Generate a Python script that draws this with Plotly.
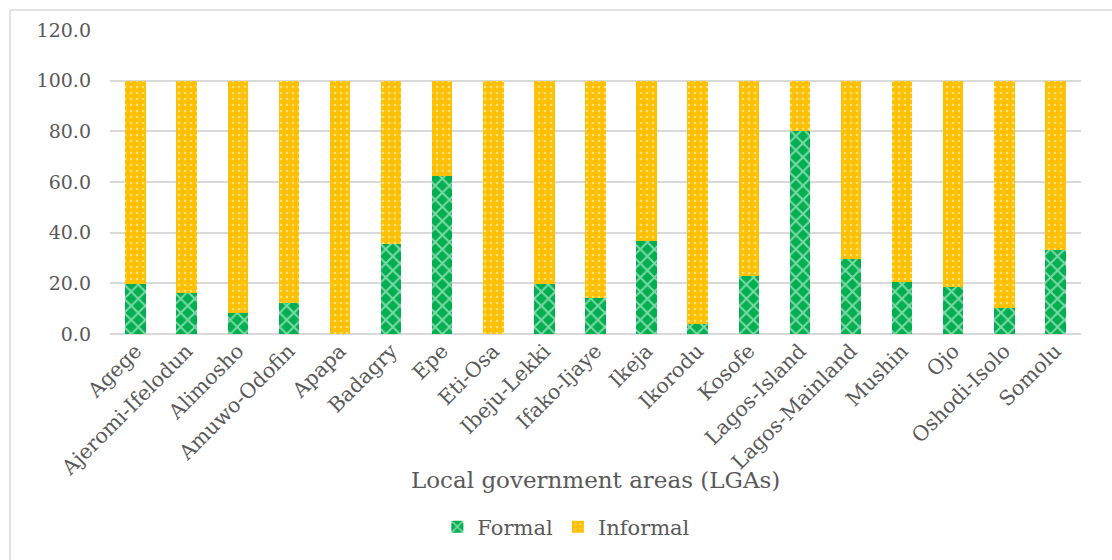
import plotly.graph_objects as go

# Local government areas of Lagos State
lgas = [
    "Agege", "Ajeromi-Ifelodun", "Alimosho", "Amuwo-Odofin", "Apapa", "Badagry",
    "Epe", "Eti-Osa", "Ibeju-Lekki", "Ifako-Ijaye", "Ikeja", "Ikorodu", "Kosofe",
    "Lagos-Island", "Lagos-Mainland", "Mushin", "Ojo", "Oshodi-Isolo", "Somolu",
]

# Share (%) of formal and informal in each LGA
formal = [19.8, 16.3, 8.2, 12.1, 0.0, 35.4, 62.4, 0.0, 19.8, 14.1, 36.9, 4.1, 22.7,
          80.0, 29.8, 20.7, 18.7, 10.4, 33.2]
informal = [round(100 - v, 1) for v in formal]

y_ticks = [0, 20, 40, 60, 80, 100, 120]

GREEN = "#00B050"
ORANGE = "#FFC000"
TEXT = "#595959"
GRID = "#D9D9D9"
FONT = "Georgia, 'DejaVu Serif', serif"

fig = go.Figure()
fig.add_trace(go.Bar(
    name="Formal", x=lgas, y=formal,
    marker=dict(color=GREEN, line=dict(width=0),
                pattern=dict(shape="x", fgcolor="white", bgcolor=GREEN,
                             size=10, solidity=0.35, fillmode="overlay")),
))
fig.add_trace(go.Bar(
    name="Informal", x=lgas, y=informal,
    marker=dict(color=ORANGE, line=dict(width=0),
                pattern=dict(shape=".", fgcolor="white", bgcolor=ORANGE,
                             size=6, solidity=0.15, fillmode="overlay")),
))

fig.update_layout(
    width=1112, height=560,
    barmode="stack", bargap=0.6,
    paper_bgcolor="white", plot_bgcolor="white",
    margin=dict(l=110, r=31, t=30, b=226),
    font=dict(family=FONT, color=TEXT, size=18),
    showlegend=True,
    legend=dict(orientation="h", x=0.47, xanchor="center", y=-0.635, yanchor="middle",
                font=dict(size=21, color=TEXT), traceorder="normal",
                itemwidth=30, bgcolor="rgba(0,0,0,0)"),
    xaxis=dict(tickangle=-45, tickfont=dict(size=20.5, color=TEXT), showgrid=False,
               showline=False, ticks="", automargin=False),
    yaxis=dict(range=[0, 120], tickvals=y_ticks, tickformat=".1f",
               tickfont=dict(size=19, color=TEXT), showgrid=True, gridcolor=GRID,
               gridwidth=1.5, zeroline=True, zerolinecolor=GRID, zerolinewidth=1.5,
               showline=False, ticks="", ticklabelstandoff=18, automargin=False),
    annotations=[dict(text="Local government areas (LGAs)", xref="paper", yref="paper",
                      x=0.5, y=-0.48, xanchor="center", yanchor="middle",
                      showarrow=False, font=dict(size=23, color=TEXT))],
    shapes=[dict(type="rect", xref="paper", yref="paper",
                 x0=-100 / 971, x1=1.2, y0=-1.2, y1=1 + 20 / 304,
                 line=dict(color=GRID, width=1.5), fillcolor="rgba(0,0,0,0)",
                 layer="below")],
)

fig.write_html("out.html")
